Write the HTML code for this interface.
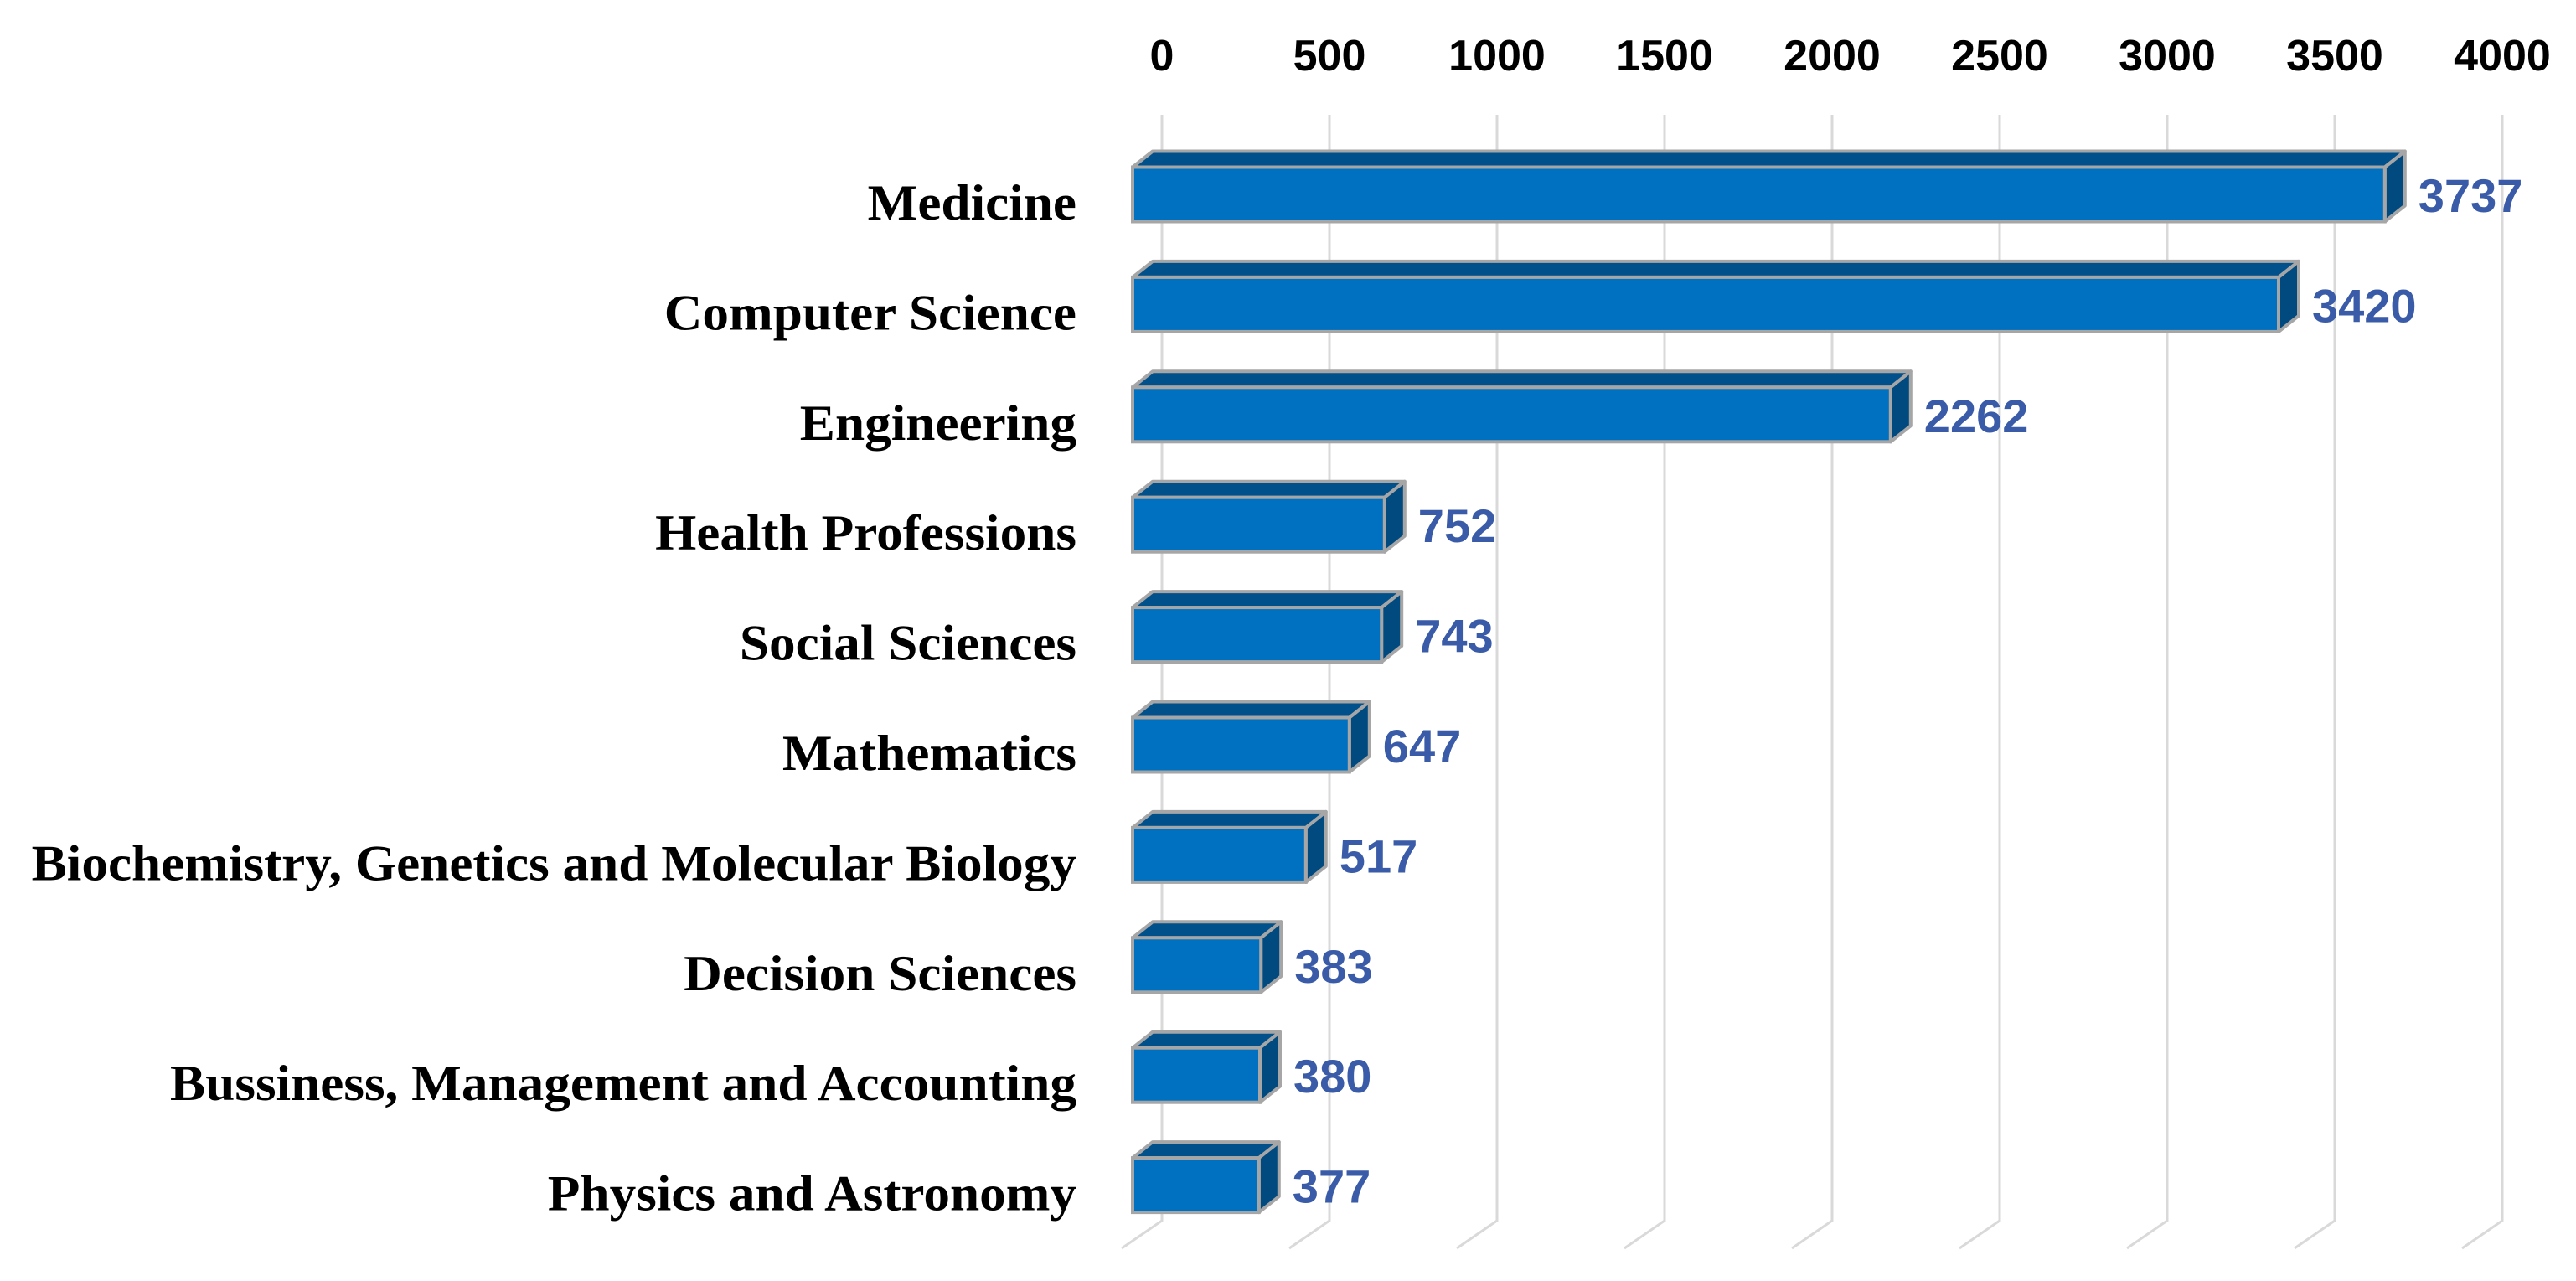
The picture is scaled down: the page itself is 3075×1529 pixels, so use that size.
<!DOCTYPE html>
<html><head><meta charset="utf-8"><style>
html,body{margin:0;padding:0;background:#fff;}
svg{display:block;}
</style></head><body>
<svg id="chart" width="3075" height="1529" viewBox="0 0 3075 1529" xmlns="http://www.w3.org/2000/svg">
<g id="grid"></g>
<g id="ticks"></g>
<g id="bars"></g>
<g id="cats"></g>
</svg>
<script>
const categories = ["Medicine","Computer Science","Engineering","Health Professions","Social Sciences","Mathematics","Biochemistry, Genetics and Molecular Biology","Decision Sciences","Bussiness, Management and Accounting","Physics and Astronomy"];
const values = [3737,3420,2262,752,743,647,517,383,380,377];
const ticks = [0,500,1000,1500,2000,2500,3000,3500,4000];

const NS = "http://www.w3.org/2000/svg";
const K = 0.4;
const backX0 = 1387, frontX0 = 1352;
const DX = 24, DY = 19, H = 65;
const row0 = 232, rowStep = 131.4;
function xBack(v){ return backX0 + v*K; }
function xFront(v){ return frontX0 + v*K; }
function yRow(i){ return row0 + i*rowStep; }
function mk(tag, attrs, parent){
  const e = document.createElementNS(NS, tag);
  for (const k in attrs) e.setAttribute(k, attrs[k]);
  parent.appendChild(e);
  return e;
}
const grid = document.getElementById('grid');
const tk = document.getElementById('ticks');
ticks.forEach(t => {
  const x = xBack(t);
  const l = mk('path', {d:`M${x},137 L${x},1457 L${x-48},1490`, stroke:'#d9d9d9', 'stroke-width':3, fill:'none'}, grid);
  
  
  const tx = mk('text', {x:x, y:84, 'text-anchor':'middle', 'font-family':'Liberation Sans, sans-serif', 'font-weight':'bold', 'font-size':52, fill:'#000'}, tk);
  tx.textContent = t;
  
  
});
const bars = document.getElementById('bars');
const cats = document.getElementById('cats');
values.forEach((v, i) => {
  const cy = yRow(i);
  const top = cy - H/2, bot = cy + H/2;
  const x1 = frontX0, x2 = xFront(v);
  const g = mk('g', {}, bars);
  
  
  mk('polygon', {points:`${x1},${top} ${x1+DX},${top-DY} ${x2+DX},${top-DY} ${x2},${top}`, fill:'#00508c', stroke:'#a6a6a6', 'stroke-width':4, 'stroke-linejoin':'round'}, g);
  mk('polygon', {points:`${x2},${top} ${x2+DX},${top-DY} ${x2+DX},${bot-DY} ${x2},${bot}`, fill:'#004a80', stroke:'#a6a6a6', 'stroke-width':4, 'stroke-linejoin':'round'}, g);
  mk('rect', {x:x1, y:top, width:x2-x1, height:H, fill:'#0070c0', stroke:'#a6a6a6', 'stroke-width':4}, g);
  const vl = mk('text', {x:x2+DX+16, y:cy+21, 'font-family':'Liberation Sans, sans-serif', 'font-weight':'bold', 'font-size':56, fill:'#3a5ba8'}, bars);
  vl.textContent = v;
  
  
  const cl = mk('text', {x:0, y:0, 'text-anchor':'end', 'font-family':'Liberation Serif, serif', 'font-weight':'bold', 'font-size':60, fill:'#000', transform:`translate(1285,${cy+30}) scale(1.054,1)`}, cats);
  cl.textContent = categories[i];
  
  
});
</script>
</body></html>
